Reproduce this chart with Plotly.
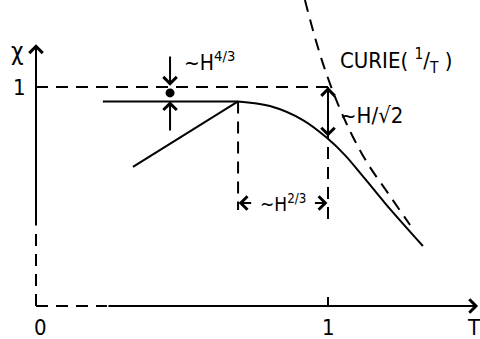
import plotly.graph_objects as go

# susceptibility curve (T in units of Tc, chi normalised)
curve_t = [0.692, 0.801, 0.914, 0.997, 1.058, 1.127, 1.195, 1.264, 1.325]
curve_chi = [0.934, 0.913, 0.849, 0.767, 0.689, 0.580, 0.470, 0.365, 0.274]

# flat plateau and rising branch below the transition
flat_t = [0.229, 0.692]
flat_chi = [0.934, 0.934]
rise_t = [0.332, 0.692]
rise_chi = [0.635, 0.934]

# Curie law (1/T) dashed branch
curie_t = [0.921, 0.955, 0.990, 1.034, 1.082, 1.137, 1.205, 1.281]
curie_chi = [1.397, 1.228, 1.078, 0.922, 0.781, 0.648, 0.516, 0.370]

# guide lines
ref_t = [0.0, 1.0]
ref_chi = [1.0, 1.0]
peak_drop_t = [0.692, 0.692]
peak_drop_chi = [0.934, 0.438]
tc_drop_t = [1.0, 1.0]
tc_drop_chi = [1.0, 0.393]

dot_t = [0.459]
dot_chi = [0.973]

tick_labels = ["0", "1", "T", "1", "χ"]

FONT = "DejaVu Sans Condensed, Liberation Sans Narrow, sans-serif"
DASH = "12px,8px"
INK = "black"

fig = go.Figure()


def line(x, y, dash=None, width=2, shape="linear"):
    fig.add_trace(go.Scatter(x=x, y=y, mode="lines", hoverinfo="skip",
                             line=dict(color=INK, width=width, dash=dash, shape=shape)))


# axes (solid part + dashed part near origin)
line([0, 0], [0, 0.361], dash=DASH)
line([0, 0.243], [0, 0], dash=DASH)
line([0, 0.041], [1.0, 1.0])
line([1.0, 1.0], [0, 0.041])

line(ref_t, ref_chi, dash=DASH)
line(peak_drop_t, peak_drop_chi, dash=DASH)
line(tc_drop_t, tc_drop_chi, dash=DASH)
line(curie_t, curie_chi, dash=DASH, shape="spline")

line(flat_t, flat_chi)
line(rise_t, rise_chi)
line(curve_t, curve_chi, shape="spline")

fig.add_trace(go.Scatter(x=dot_t, y=dot_chi, mode="markers", hoverinfo="skip",
                         marker=dict(color=INK, size=9)))


def arrow(x0, y0, x1, y1, both=False):
    fig.add_annotation(x=x1, y=y1, ax=x0, ay=y0, xref="x", yref="y", axref="x", ayref="y",
                       text="", showarrow=True, arrowhead=4, arrowsize=1.3, arrowwidth=2,
                       arrowcolor=INK, arrowside="end+start" if both else "end",
                       startarrowhead=4, startarrowsize=1.3)


# axis arrows
arrow(0, 0.361, 0, 1.195)
arrow(0.243, 0, 1.514, 0)
# ~H^4/3 gap
arrow(0.459, 1.146, 0.459, 1.006)
arrow(0.459, 0.795, 0.459, 0.935)
# ~H/sqrt2 gap
arrow(1.0, 0.767, 1.0, 1.0, both=True)
# ~H^2/3 shift
arrow(0.742, 0.470, 0.694, 0.470)
arrow(0.950, 0.470, 0.998, 0.470)


def label(x, y, text, size=22, xanchor="center"):
    fig.add_annotation(x=x, y=y, xref="x", yref="y", text=text, showarrow=False,
                       xanchor=xanchor, yanchor="middle",
                       font=dict(family=FONT, size=size, color=INK))


label(0.014, -0.100, tick_labels[0])
label(1.0, -0.100, tick_labels[1])
label(1.500, -0.100, tick_labels[2])
label(-0.055, 1.0, tick_labels[3])
label(-0.066, 1.158, tick_labels[4], size=24)
label(1.035, 1.120, "CURIE( <sup>1</sup>/<sub>T</sub> )", xanchor="left")
label(1.033, 0.868, "~H/√2", xanchor="left")
label(0.500, 1.120, "~H<sup>4/3</sup>", xanchor="left", size=21)
label(0.846, 0.470, "~H<sup>2/3</sup>", size=19)

fig.update_layout(
    width=480, height=339,
    margin=dict(l=0, r=0, t=0, b=0),
    paper_bgcolor="white", plot_bgcolor="white",
    showlegend=False,
    xaxis=dict(range=[-0.1233, 1.5205], visible=False, fixedrange=True),
    yaxis=dict(range=[-0.1507, 1.3973], visible=False, fixedrange=True),
)

# drop the default page margin so the figure sits at the window's corner
fig.write_html("out.html", config={"displayModeBar": False},
               post_script="document.body.style.margin = '0';")
